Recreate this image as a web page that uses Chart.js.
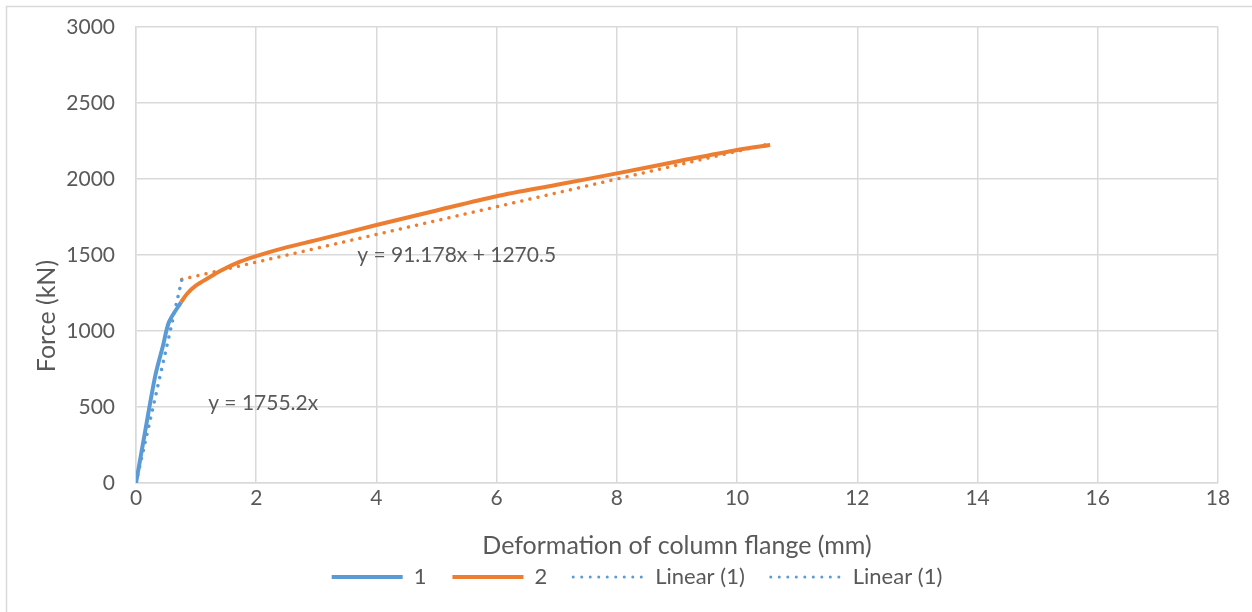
<!DOCTYPE html>
<html>
<head>
<meta charset="utf-8">
<script src="https://cdn.jsdelivr.net/npm/chart.js@4.4.1/dist/chart.umd.min.js"></script>
<style>
  html, body { margin: 0; padding: 0; background: #fff; }
  #wrap { width: 1252px; height: 612px; }
</style>
</head>
<body>
<div id="wrap"><canvas id="flangeChart" width="1252" height="612"></canvas></div>
<script>
// test curves: deformation (mm) vs force (kN)
const curve1X = [0, 0.15, 0.32, 0.45, 0.55, 0.75];
const curve1Y = [0, 335, 705, 905, 1060, 1190];

const curve2X = [0.75, 0.85, 1.0, 1.23, 1.4, 1.73, 2.0, 2.5, 3.0, 4.0, 5.0, 6.0, 7.0, 8.0, 9.0, 10.0, 10.55];
const curve2Y = [1190, 1245, 1300, 1355, 1395, 1456, 1493, 1550, 1598, 1697, 1793, 1887, 1962, 2037, 2115, 2191, 2224];

// linear fits (from the labels)
const fit1Slope = 1755.2;
const fit1Range = [0, 0.76];
const fit2Slope = 91.178;
const fit2Intercept = 1270.5;
const fit2Range = [0.76, 10.55];

const seriesNames = ["1", "2", "Linear (1)", "Linear (1)"];
const xTicks = [0, 2, 4, 6, 8, 10, 12, 14, 16, 18];
const yTicks = [0, 500, 1000, 1500, 2000, 2500, 3000];

const BLUE = "#5B9BD5";
const ORANGE = "#ED7D31";
const TEXT = "#595959";
const GRID = "#D9D9D9";
const FONT = "Lato";

const toPoints = (xs, ys) => xs.map((x, i) => ({ x: x, y: ys[i] }));

const fit1Points = fit1Range.map((x) => ({ x: x, y: fit1Slope * x }));
const fit2Points = fit2Range.map((x) => ({ x: x, y: fit2Slope * x + fit2Intercept }));

// white background, outer frame, y title and the trendline equations
const chartDecor = {
  id: "chartDecor",
  beforeDraw(chart) {
    const ctx = chart.ctx;
    ctx.save();
    ctx.fillStyle = "#fff";
    ctx.fillRect(0, 0, chart.width, chart.height);
    ctx.strokeStyle = GRID;
    ctx.lineWidth = 1.5;
    ctx.strokeRect(6.5, 6.5, chart.width + 20, chart.height + 20);
    ctx.restore();
  },
  afterDraw(chart) {
    const ctx = chart.ctx;
    ctx.save();
    ctx.fillStyle = TEXT;
    ctx.font = "25px " + FONT;
    ctx.textAlign = "center";
    ctx.textBaseline = "middle";
    ctx.translate(47, 316);
    ctx.rotate(-Math.PI / 2);
    ctx.fillText("Force (kN)", 0, 0);
    ctx.restore();
  },
  afterDatasetsDraw(chart) {
    const { ctx, scales } = chart;
    ctx.save();
    ctx.fillStyle = TEXT;
    ctx.font = "21px " + FONT;
    ctx.textAlign = "left";
    ctx.textBaseline = "middle";
    ctx.fillText("y = " + fit2Slope + "x + " + fit2Intercept,
      scales.x.getPixelForValue(3.68), scales.y.getPixelForValue(1500));
    ctx.fillText("y = " + fit1Slope + "x",
      scales.x.getPixelForValue(1.2), scales.y.getPixelForValue(526));
    ctx.restore();
  },
};

const dotted = [0.01, 8.3];

new Chart(document.getElementById("flangeChart"), {
  type: "scatter",
  data: {
    datasets: [
      {
        label: seriesNames[0],
        data: toPoints(curve1X, curve1Y),
        showLine: true,
        borderColor: BLUE,
        backgroundColor: BLUE,
        borderWidth: 4,
        pointRadius: 0,
        tension: 0.3,
      },
      {
        label: seriesNames[1],
        data: toPoints(curve2X, curve2Y),
        showLine: true,
        borderColor: ORANGE,
        backgroundColor: ORANGE,
        borderWidth: 4,
        pointRadius: 0,
        tension: 0.3,
      },
      {
        label: seriesNames[2],
        data: fit1Points,
        showLine: true,
        borderColor: BLUE,
        backgroundColor: BLUE,
        borderWidth: 3.5,
        borderDash: dotted,
        borderCapStyle: "round",
        pointRadius: 0,
      },
      {
        label: seriesNames[3],
        data: fit2Points,
        showLine: true,
        borderColor: ORANGE,
        backgroundColor: ORANGE,
        borderWidth: 3.5,
        borderDash: dotted,
        borderCapStyle: "round",
        pointRadius: 0,
      },
    ],
  },
  options: {
    responsive: false,
    animation: false,
    devicePixelRatio: 1,
    layout: { padding: { left: 56, right: 34, top: 27, bottom: 14 } },
    scales: {
      x: {
        type: "linear",
        min: xTicks[0],
        max: xTicks[xTicks.length - 1],
        afterBuildTicks: (scale) => { scale.ticks = xTicks.map((v) => ({ value: v })); },
        afterFit: (scale) => {
          scale.height = 57;
          scale.paddingLeft = 0;
          scale.paddingRight = 0;
        },
        grid: { color: GRID, lineWidth: 1.5, drawTicks: false },
        border: { color: GRID, width: 1.5 },
        ticks: { color: TEXT, font: { family: FONT, size: 21 }, padding: 3 },
        title: {
          display: true,
          text: "Deformation of column flange (mm)",
          color: TEXT,
          font: { family: FONT, size: 25 },
          padding: { top: 0, bottom: -21 },
        },
      },
      y: {
        type: "linear",
        min: yTicks[0],
        max: yTicks[yTicks.length - 1],
        afterBuildTicks: (scale) => { scale.ticks = yTicks.map((v) => ({ value: v })); },
        afterFit: (scale) => {
          scale.width = 80;
          scale.paddingTop = 0;
          scale.paddingBottom = 0;
        },
        grid: { color: GRID, lineWidth: 1.5, drawTicks: false },
        border: { color: GRID, width: 1.5 },
        ticks: {
          color: TEXT,
          font: { family: FONT, size: 21 },
          padding: 21,
          callback: (v) => String(v),
        },
      },
    },
    plugins: {
      tooltip: { enabled: false },
      legend: {
        position: "bottom",
        labels: {
          color: TEXT,
          font: { family: FONT, size: 22 },
          padding: 26,
          usePointStyle: true,
          pointStyleWidth: 71,
          boxHeight: 22,
          // all legend keys are drawn as lines; both fit keys use the blue dots
          generateLabels: (chart) =>
            chart.data.datasets.map((ds, i) => ({
              text: ds.label,
              datasetIndex: i,
              pointStyle: "line",
              strokeStyle: i < 2 ? ds.borderColor : BLUE,
              fillStyle: i < 2 ? ds.borderColor : BLUE,
              lineWidth: i < 2 ? 4 : 3,
              lineDash: i < 2 ? [] : [0.01, 8.5],
              lineCap: i < 2 ? "butt" : "round",
              fontColor: TEXT,
              hidden: false,
            })),
        },
      },
    },
  },
  plugins: [chartDecor],
});
</script>
</body>
</html>
